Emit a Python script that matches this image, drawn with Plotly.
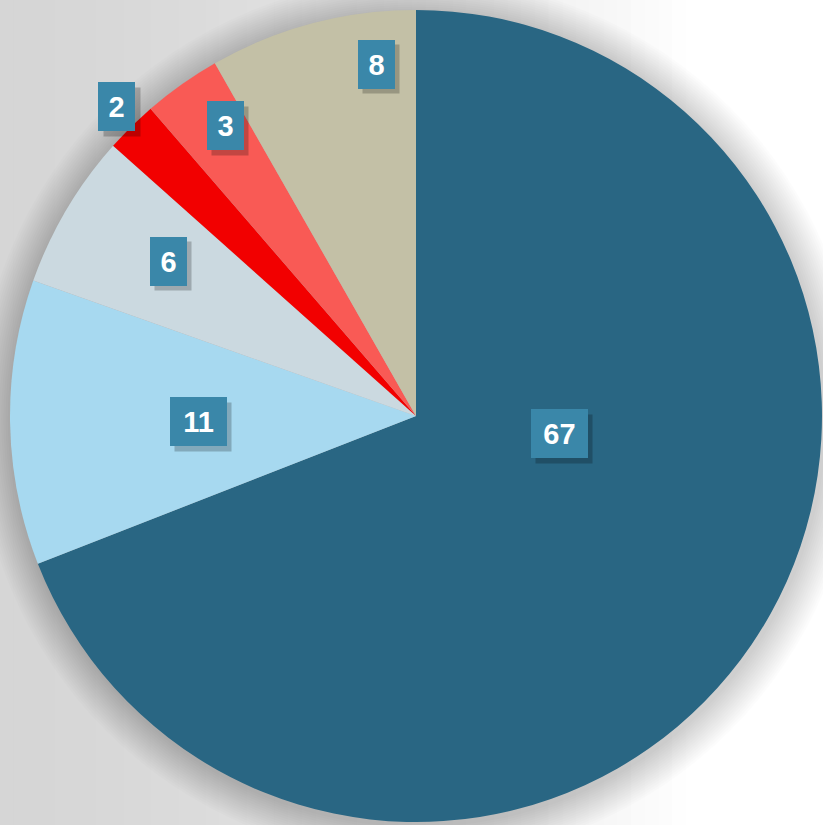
import plotly.graph_objects as go

# ---- data ----
categories = ["A", "B", "C", "D", "E", "F"]
values = [67, 11, 6, 2, 3, 8]
colors = ["#296683", "#a7d9f0", "#cbd9e0", "#f20000", "#f95a55", "#c3c0a6"]

W, H = 823, 825
CX, CY, R = 416, 416, 406

fig = go.Figure()

fig.add_trace(go.Pie(
    labels=categories, values=values, sort=False, direction="clockwise",
    rotation=0, marker=dict(colors=colors, line=dict(width=0)),
    textinfo="none", hoverinfo="label+value", showlegend=False,
    domain=dict(x=[(CX - R) / W, (CX + R) / W], y=[1 - (CY + R) / H, 1 - (CY - R) / H]),
))

shapes = []
# background gradient: gray on the left fading to white on the right
N = 60
for i in range(N):
    t = i / (N - 1)
    f = min(1.0, t / 0.85) ** 1.6
    g = int(round(0xd6 + (0xff - 0xd6) * f))
    shapes.append(dict(type="rect", xref="paper", yref="paper", layer="below",
                       x0=i / N, x1=(i + 1) / N + 0.002, y0=0, y1=1,
                       fillcolor=f"rgb({g},{g},{g})", line=dict(width=0)))
# soft shadow around the pie
for k in range(16, 0, -1):
    rr = R + k * 2.2
    shapes.append(dict(type="circle", xref="paper", yref="paper", layer="below",
                       x0=(CX + 2 - rr) / W, x1=(CX + 2 + rr) / W,
                       y0=1 - (CY + 3 + rr) / H, y1=1 - (CY + 3 - rr) / H,
                       fillcolor="rgba(0,0,0,0.010)", line=dict(width=0)))

# label positions (pixel centres) for each slice
label_px = [(559, 434), (198, 422), (168, 261), (117, 107), (225, 126), (376, 64)]

PAD = 8
BOX_H = 33
annotations = []
for v, (px, py) in zip(values, label_px):
    txt = str(v)
    w = 21 if len(txt) == 1 else 41
    bw, bh = w + 2 * PAD, BOX_H + 2 * PAD
    sx, sy = px + 5, py + 5
    shapes.append(dict(type="rect", xref="paper", yref="paper", layer="above",
                       x0=(sx - bw / 2) / W, x1=(sx + bw / 2) / W,
                       y0=1 - (sy + bh / 2) / H, y1=1 - (sy - bh / 2) / H,
                       fillcolor="rgba(0,0,0,0.22)", line=dict(width=0)))
    annotations.append(dict(text=f"<b>{txt}</b>", bgcolor="#3a87a9",
                            font=dict(color="white", size=29, family="Liberation Sans, Arial"),
                            xref="paper", yref="paper", x=px / W, y=1 - py / H,
                            xanchor="center", yanchor="middle", showarrow=False,
                            width=w, height=BOX_H, borderpad=PAD, borderwidth=0))

fig.update_layout(
    width=W, height=H, margin=dict(l=0, r=0, t=0, b=0),
    paper_bgcolor="#e0e0e0", plot_bgcolor="rgba(0,0,0,0)",
    shapes=shapes, annotations=annotations, showlegend=False,
)

fig.write_html("out.html", config={"displayModeBar": False},
               post_script="document.body.style.margin='0';document.body.style.overflow='hidden';")
